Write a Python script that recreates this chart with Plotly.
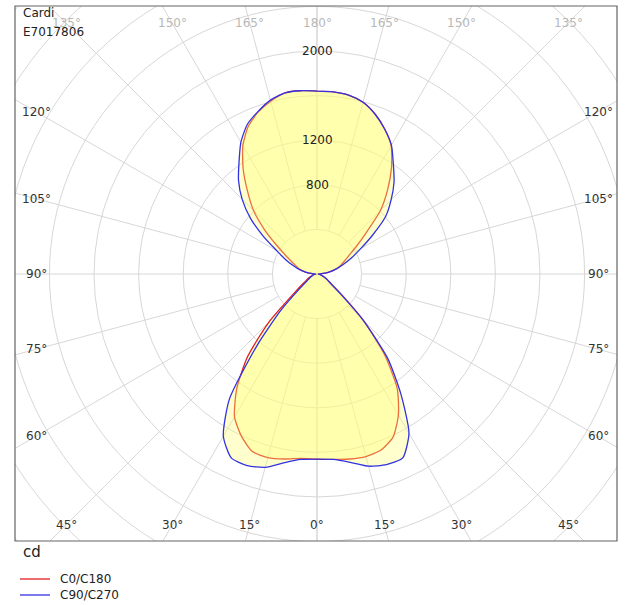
import math
import plotly.graph_objects as go

# ---------------- data (cd) ----------------
gamma = [0, 5, 10, 15, 20, 25, 30, 35, 40, 45, 50, 55, 60, 65, 70, 75, 80, 85, 90,
         95, 100, 105, 110, 115, 120, 125, 130, 135, 140, 145, 150, 155, 160, 165, 170, 175, 180]

c0 = [1660, 1670, 1685, 1695, 1680, 1615, 1460, 1255, 940, 585, 285, 160, 110, 80, 55, 35, 25, 18, 10,
      55, 115, 180, 225, 270, 330, 430, 575, 805, 985, 1165, 1330, 1435, 1525, 1595, 1630, 1640, 1640]
c180 = [1660, 1660, 1685, 1705, 1695, 1605, 1480, 1255, 970, 610, 270, 160, 110, 80, 55, 35, 25, 18, 10,
        55, 110, 160, 195, 240, 315, 430, 610, 805, 970, 1155, 1330, 1460, 1545, 1605, 1650, 1650, 1640]
c90 = [1660, 1670, 1715, 1785, 1820, 1820, 1650, 1310, 985, 585, 270, 150, 110, 80, 55, 35, 25, 18, 10,
       55, 115, 180, 250, 340, 450, 610, 805, 940, 1075, 1195, 1335, 1435, 1525, 1595, 1630, 1640, 1640]
c270 = [1660, 1670, 1720, 1795, 1830, 1820, 1680, 1370, 835, 450, 200, 110, 80, 60, 45, 35, 25, 18, 10,
        55, 110, 170, 235, 315, 415, 585, 780, 950, 1095, 1220, 1365, 1480, 1550, 1615, 1650, 1650, 1640]

series_names = ["C0/C180", "C90/C270"]
ring_values = [400, 800, 1200, 1600, 2000, 2400, 2800, 3200, 3600]
ring_labels = [800, 1200, 2000]
spoke_angles = [0, 15, 30, 45, 60, 75, 90, 105, 120, 135, 150, 165, 180]
bottom_labels = [0, 15, 30, 45]
side_labels = [60, 75, 90, 105, 120]
top_labels = [135, 150, 165, 180]
title_lines = ["Cardi", "E7017806"]
unit_label = "cd"

# ---------------- geometry helpers ----------------
W, H = 627, 605
ML, MR, MT, MB = 15, 10, 6, 64
PW, PH = W - ML - MR, H - MT - MB
CX, CY = 317, 274          # pixel centre of the diagram
K = 8.97                   # cd per pixel
XR = [-(CX - ML) * K, (ML + PW - CX) * K]
YR = [-(MT + PH - CY) * K, (CY - MT) * K]


def px(xp):
    return (xp - ML) / PW


def py(yp):
    return (MT + PH - yp) / PH


def half(values, side):
    xs, ys = [], []
    for g, r in zip(gamma, values):
        a = math.radians(g)
        xs.append(side * r * math.sin(a))
        ys.append(-r * math.cos(a))
    return xs, ys


FONT = "DejaVu Sans"
RED = "rgb(225,30,30)"
BLUE = "rgb(50,50,225)"
FILL = "rgba(255,255,120,0.36)"
GRID = "rgb(215,215,215)"

fig = go.Figure()

for (right, left), color, name in [((c0, c180), RED, series_names[0]),
                                   ((c90, c270), BLUE, series_names[1])]:
    xr, yr = half(right, 1)
    xl, yl = half(left, -1)
    xs = xr + xl[::-1]
    ys = yr + yl[::-1]
    fig.add_trace(go.Scatter(x=xs, y=ys, mode="lines", fill="toself", fillcolor=FILL,
                             line=dict(color=color, width=1.3, shape="spline", smoothing=0.6),
                             name=name, showlegend=False, hoverinfo="skip"))

shapes = []
for r in ring_values:
    shapes.append(dict(type="circle", xref="x", yref="y", x0=-r, y0=-r, x1=r, y1=r,
                       line=dict(color=GRID, width=1), layer="below"))
for g in spoke_angles:
    a = math.radians(g)
    for side in (1, -1):
        shapes.append(dict(type="line", xref="x", yref="y",
                           x0=side * ring_values[0] * math.sin(a), y0=-ring_values[0] * math.cos(a),
                           x1=side * ring_values[-1] * math.sin(a), y1=-ring_values[-1] * math.cos(a),
                           line=dict(color=GRID, width=1), layer="below"))
# frame
shapes.append(dict(type="rect", xref="paper", yref="paper", x0=0, y0=0, x1=1, y1=1,
                   line=dict(color="rgb(100,100,100)", width=1.2), layer="above"))
# legend lines
for i, color in enumerate([RED, BLUE]):
    yy = 579 + 16 * i
    shapes.append(dict(type="line", xref="paper", yref="paper", x0=px(20), x1=px(50),
                       y0=py(yy), y1=py(yy), line=dict(color=color, width=1.3)))

ann = []
# ring labels
for r in ring_labels:
    ann.append(dict(x=0, y=r, xref="x", yref="y", text=str(r), showarrow=False,
                    font=dict(family=FONT, size=12, color="#222")))
# angle labels
LAB_R_SIDE = 281 * K
LAB_R_BOT = 251 * K
for g in bottom_labels:
    a = math.radians(g)
    for side in ((1, -1) if g else (1,)):
        ann.append(dict(x=side * LAB_R_BOT * math.tan(a), y=-LAB_R_BOT, xref="x", yref="y",
                        text=f"{g}°", showarrow=False, font=dict(family=FONT, size=12, color="#333")))
for g in side_labels:
    a = math.radians(g)
    for side in (1, -1):
        ann.append(dict(x=side * LAB_R_SIDE, y=-LAB_R_SIDE / math.tan(a), xref="x", yref="y",
                        text=f"{g}°", showarrow=False, font=dict(family=FONT, size=12, color="#333")))
for g in top_labels:
    a = math.radians(180 - g)
    for side in ((1, -1) if g != 180 else (1,)):
        ann.append(dict(x=side * LAB_R_BOT * math.tan(a), y=LAB_R_BOT, xref="x", yref="y",
                        text=f"{g}°", showarrow=False, font=dict(family=FONT, size=12, color="#b8b8b8")))
# title text
for i, t in enumerate(title_lines):
    ann.append(dict(x=px(21), y=py(13 + 19 * i), xref="paper", yref="paper", xanchor="left",
                    yanchor="middle", text=t, showarrow=False,
                    font=dict(family=FONT, size=12, color="#222")))
ann.append(dict(x=px(21), y=py(552), xref="paper", yref="paper", xanchor="left", yanchor="middle",
                text=unit_label, showarrow=False, font=dict(family=FONT, size=15, color="#222")))
for i, t in enumerate(series_names):
    ann.append(dict(x=px(58), y=py(579 + 16 * i), xref="paper", yref="paper", xanchor="left",
                    yanchor="middle", text=t, showarrow=False,
                    font=dict(family=FONT, size=12, color="#222")))

fig.update_layout(
    width=W, height=H,
    margin=dict(l=ML, r=MR, t=MT, b=MB),
    paper_bgcolor="white", plot_bgcolor="white",
    xaxis=dict(range=XR, visible=False, fixedrange=True),
    yaxis=dict(range=YR, visible=False, fixedrange=True),
    shapes=shapes, annotations=ann, showlegend=False,
)

fig.write_html("out.html", config={"displayModeBar": False},
               post_script="document.body.style.margin='0';document.body.style.overflow='hidden';")
